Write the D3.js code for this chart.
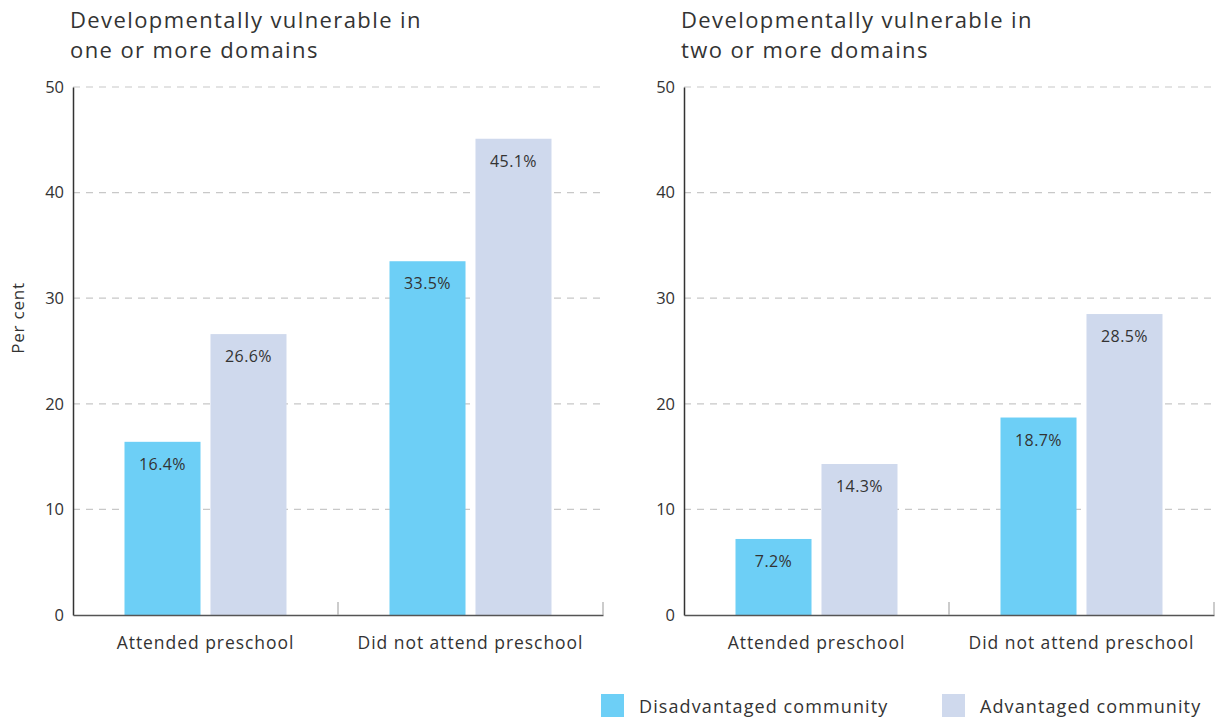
<!DOCTYPE html>
<html>
<head>
<meta charset="utf-8">
<script src="https://cdn.jsdelivr.net/npm/d3@7"></script>
<style>
  html, body { margin: 0; padding: 0; background: #fff; }
  svg { display: block; font-family: "Open Sans", "Lato", sans-serif; }
</style>
</head>
<body>
<svg id="chart" width="1215" height="717"></svg>
<script>
const categories = ["Attended preschool", "Did not attend preschool"];
const seriesNames = ["Disadvantaged community", "Advantaged community"];
const panelTitles = [
  ["Developmentally vulnerable in", "one or more domains"],
  ["Developmentally vulnerable in", "two or more domains"]
];
const oneOrMore_disadvantaged = [16.4, 33.5];
const oneOrMore_advantaged = [26.6, 45.1];
const twoOrMore_disadvantaged = [7.2, 18.7];
const twoOrMore_advantaged = [14.3, 28.5];
const yTicks = [0, 10, 20, 30, 40, 50];
const colors = ["#6dcff6", "#cfd9ed"];
const FONT = "'Open Sans', Lato, sans-serif";

const panels = [
  { title: panelTitles[0], data: [oneOrMore_disadvantaged, oneOrMore_advantaged], x0: 73, x1: 603, yLabel: true },
  { title: panelTitles[1], data: [twoOrMore_disadvantaged, twoOrMore_advantaged], x0: 684, x1: 1214, yLabel: false }
];

const svg = d3.select("#chart");
const y = d3.scaleLinear().domain([0, 50]).range([615, 87]);

panels.forEach(p => {
  const g = svg.append("g");
  const x = d3.scaleBand().domain(categories).range([p.x0, p.x1]).paddingInner(0).paddingOuter(0);
  const xs = d3.scaleBand().domain(seriesNames).range([0, 162]).paddingInner(0.116);
  const groupOffset = (x.bandwidth() - 162) / 2;

  // title (two lines)
  p.title.forEach((line, i) => {
    g.append("text")
      .attr("x", p.x0 - 3)
      .attr("y", 28 + i * 30)
      .attr("font-size", 22)
      .attr("letter-spacing", 1.4)
      .attr("fill", "#333")
      .text(line);
  });

  // gridlines
  g.selectAll(".grid").data(yTicks.filter(t => t > 0)).join("line")
    .attr("x1", p.x0).attr("x2", p.x1)
    .attr("y1", d => y(d)).attr("y2", d => y(d))
    .attr("stroke", "#c8c8c8").attr("stroke-width", 1.2)
    .attr("stroke-dasharray", "7,6");

  // bars
  p.data.forEach((vals, si) => {
    g.selectAll(".bar" + si).data(vals).join("rect")
      .attr("x", (d, i) => x(categories[i]) + groupOffset + xs(seriesNames[si]))
      .attr("y", d => y(d))
      .attr("width", xs.bandwidth())
      .attr("height", d => y(0) - y(d))
      .attr("fill", colors[si]);
    g.selectAll(".lab" + si).data(vals).join("text")
      .attr("x", (d, i) => x(categories[i]) + groupOffset + xs(seriesNames[si]) + xs.bandwidth() / 2)
      .attr("y", d => y(d) + 28)
      .attr("text-anchor", "middle")
      .attr("font-size", 16)
      .attr("letter-spacing", 0.4)
      .attr("fill", "#333")
      .text(d => d.toFixed(1) + "%");
  });

  // y axis
  const yAxis = d3.axisLeft(y).tickValues(yTicks).tickSize(0).tickPadding(9);
  const ya = g.append("g").attr("transform", `translate(${p.x0},0)`).call(yAxis);
  ya.select(".domain").attr("stroke", "#333").attr("stroke-width", 1.5);
  ya.selectAll("text").attr("font-size", 16.5).attr("fill", "#333").attr("font-family", FONT);

  // x axis
  const xAxis = d3.axisBottom(x).tickSize(0).tickPadding(22);
  const xa = g.append("g").attr("transform", `translate(0,${y(0)})`).call(xAxis);
  xa.select(".domain").attr("stroke", "#555").attr("stroke-width", 1.5);
  xa.selectAll("text").attr("font-size", 17.5).attr("letter-spacing", 0.95).attr("fill", "#333").attr("font-family", FONT);
  // category separators
  const seps = [x(categories[1]), p.x1];
  g.selectAll(".sep").data(seps).join("line")
    .attr("x1", d => d).attr("x2", d => d)
    .attr("y1", y(0) - 13).attr("y2", y(0))
    .attr("stroke", "#aaa").attr("stroke-width", 1.2);

  if (p.yLabel) {
    g.append("text")
      .attr("transform", `translate(24,318) rotate(-90)`)
      .attr("text-anchor", "middle")
      .attr("font-size", 17)
      .attr("letter-spacing", 0.8)
      .attr("fill", "#333")
      .text("Per cent");
  }
});

// legend
const legendX = [601, 942];
seriesNames.forEach((name, i) => {
  svg.append("rect").attr("x", legendX[i]).attr("y", 694).attr("width", 23).attr("height", 23).attr("fill", colors[i]);
  svg.append("text").attr("x", legendX[i] + 38).attr("y", 713)
    .attr("font-size", 18).attr("letter-spacing", 1.1).attr("fill", "#333").text(name);
});
</script>
</body>
</html>
